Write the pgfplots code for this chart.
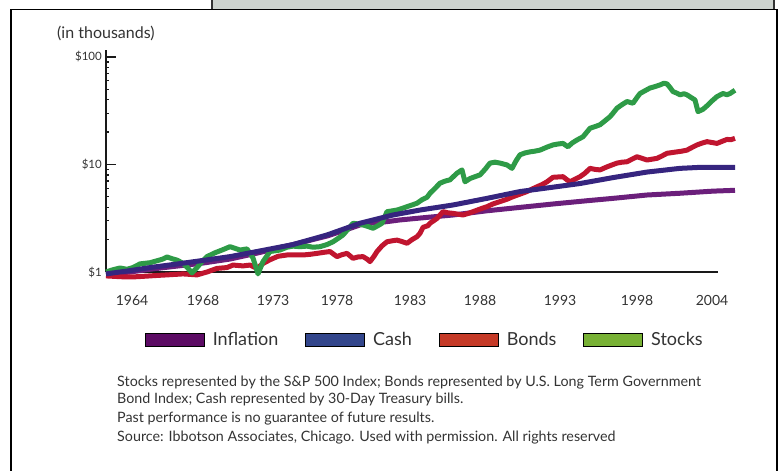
\documentclass[border=0pt]{standalone}
\usepackage{fontspec}
\setmainfont{Lato}
\usepackage{pgfplots}
\pgfplotsset{compat=1.18}
\definecolor{textgray}{HTML}{333333}
\definecolor{boxgray}{HTML}{CDD3CE}
\definecolor{stockline}{HTML}{2E9B47}
\definecolor{bondline}{HTML}{C0152F}
\definecolor{cashline}{HTML}{36257F}
\definecolor{inflline}{HTML}{6B1F7B}
\definecolor{legInfl}{HTML}{5C0B64}
\definecolor{legCash}{HTML}{33468C}
\definecolor{legBond}{HTML}{C53A27}
\definecolor{legStock}{HTML}{78B135}
\begin{document}
\begin{tikzpicture}
\path[use as bounding box] (0,0) rectangle (781bp,-471bp);
% frame and grey tab
\fill[boxgray] (212bp,0) rectangle (774bp,-9bp);
\draw[line width=1.2bp, black!80] (212bp,0) -- (212bp,-9bp);
\draw[line width=1.2bp, black!80] (774bp,0) -- (774bp,-9bp);
\draw[line width=1.3bp, black] (11bp,-480bp) -- (11bp,-9.5bp) -- (777bp,-9.5bp) -- (777bp,-480bp);
\begin{axis}[
  at={(106bp,-272bp)}, anchor=south west,
  scale only axis, width=612bp, height=222bp,
  xmin=106, xmax=718, ymode=log, ymin=1, ymax=116,
  axis x line=bottom, axis y line=left,
  axis line style={-, line width=1.5bp, black!90},
  clip=false,
  xtick={132,203,273,337,410,480,560,637,712},
  xticklabels={1964,1968,1973,1978,1983,1988,1993,1998,2004},
  ytick={1,10,100}, yticklabels={\$1,\$10,\$100},
  minor ytick={}, 
  x tick style={draw=none},
  y tick style={line width=1.3bp, black!90},
  tick align=inside, major tick length=10bp,
  /pgf/number format/assume math mode=true,
  xticklabel style={font=\fontsize{14bp}{16bp}\selectfont, text=textgray, anchor=north, inner sep=0pt, yshift=-23bp},
  yticklabel style={font=\fontsize{11.5bp}{14bp}\selectfont, text=textgray, anchor=east, inner sep=0pt, xshift=-4bp},
  legend columns=4,
  legend style={at={(axis description cs:0.521,-0.306)}, anchor=center, draw=none, fill=none,
    font=\fontsize{18bp}{20bp}\selectfont, text=textgray,
    /tikz/every odd column/.append style={column sep=6bp},
    /tikz/every even column/.append style={column sep=25bp}},
  legend image code/.code={\draw[#1] (0bp,-6.5bp) rectangle (59bp,6.5bp);},
]
\addplot[inflline, line width=5bp, line join=round, forget plot] coordinates {
(106,0.95)(130,1.00)(150,1.06)(175,1.13)(200,1.20)(230,1.32)(260,1.52)(293,1.80)
(327,2.16)(345,2.45)(360,2.74)(375,2.88)(387,2.94)(400,3.05)(427,3.22)(453,3.39)
(487,3.71)(520,3.99)(553,4.29)(588,4.61)(613,4.84)(647,5.2)(680,5.4)(713,5.65)(735,5.75)};
\addplot[bondline, line width=5bp, line join=round, forget plot] coordinates {
(106,0.92)(115,0.91)(125,0.90)(133,0.90)(142,0.91)(150,0.92)(158,0.93)(167,0.94)
(175,0.95)(183,0.96)(190,0.95)(197,0.94)(202,0.97)(207,1.00)(212,1.04)(217,1.08)
(222,1.09)(227,1.10)(233,1.16)(238,1.15)(243,1.14)(250,1.16)(257,1.08)(263,1.20)
(270,1.30)(278,1.40)(287,1.44)(295,1.44)(303,1.44)(310,1.46)(317,1.49)(323,1.52)
(330,1.55)(337,1.39)(342,1.45)(347,1.49)(353,1.34)(358,1.38)(363,1.39)(367,1.32)
(370,1.25)(374,1.40)(377,1.55)(382,1.75)(387,1.91)(392,1.95)(397,1.98)(402,1.92)
(407,1.85)(412,2.00)(417,2.13)(420,2.29)(423,2.6)(428,2.7)(430,2.84)(437,3.15)
(443,3.64)(448,3.55)(453,3.51)(458,3.45)(463,3.39)(468,3.50)(473,3.64)(480,3.85)
(487,4.05)(493,4.30)(500,4.52)(507,4.75)(513,5.02)(520,5.30)(527,5.60)(532,5.90)
(537,6.2)(542,6.5)(547,6.9)(553,7.6)(558,7.65)(563,7.7)(567,7.2)(570,6.9)(575,7.3)
(580,7.7)(585,8.3)(590,9.2)(595,9.0)(600,8.9)(607,9.5)(612,9.9)(617,10.3)(622,10.5)
(627,10.6)(632,11.2)(637,11.8)(642,11.4)(647,11.0)(652,11.2)(657,11.4)(662,12.0)
(667,12.7)(672,12.9)(677,13.1)(682,13.3)(687,13.6)(692,14.4)(697,15.2)(702,15.8)
(707,16.3)(712,16.0)(717,15.7)(722,16.4)(727,17.1)(731,17.0)(735,17.5)};
\addplot[stockline, line width=5bp, line join=round, forget plot] coordinates {
(106,1.00)(113,1.05)(120,1.09)(127,1.06)(133,1.10)(140,1.19)(150,1.22)(158,1.28)
(163,1.32)(167,1.38)(172,1.33)(177,1.29)(182,1.22)(187,1.11)(192,0.98)(197,1.10)
(202,1.25)(207,1.39)(215,1.51)(222,1.60)(230,1.72)(235,1.66)(240,1.60)(247,1.64)
(253,1.35)(258,0.96)(263,1.25)(270,1.55)(280,1.60)(287,1.70)(293,1.74)(300,1.72)
(307,1.74)(313,1.70)(320,1.72)(327,1.80)(333,1.91)(338,2.05)(343,2.21)(348,2.50)
(353,2.84)(358,2.80)(363,2.74)(368,2.65)(373,2.55)(378,2.70)(382,2.84)(387,3.64)
(392,3.70)(397,3.77)(402,3.90)(407,4.05)(412,4.20)(417,4.36)(422,4.70)(427,4.95)
(430,5.4)(435,6.0)(440,6.7)(445,7.0)(450,7.2)(457,8.3)(462,8.9)(465,6.9)(470,7.4)
(475,7.7)(480,8.0)(485,9.0)(490,10.3)(495,10.5)(500,10.3)(507,9.9)(512,9.2)(516,10.8)
(520,12.3)(525,12.8)(530,13.1)(535,13.3)(540,13.6)(547,14.5)(553,15.2)(558,15.5)
(563,15.7)(568,14.6)(572,15.8)(577,16.9)(583,18.1)(590,21.7)(595,22.5)(600,23.4)
(605,25.5)(610,27.8)(613,30)(617,33.4)(622,36)(627,38.5)(633,37.1)(637,42)(640,45.7)
(645,48.5)(650,51.4)(655,53)(660,54.9)(664,57)(667,56.1)(670,52)(673,47.6)(677,46)
(680,44.4)(684,45.5)(687,44.4)(691,42)(695,39.8)(698,31.0)(703,32.6)(708,35.8)
(712,39)(717,42.8)(723,45.7)(727,44.5)(730,45.7)(735,49)};
\addplot[cashline, line width=5bp, line join=round, forget plot] coordinates {
(106,0.96)(130,1.03)(150,1.10)(175,1.18)(200,1.27)(230,1.39)(260,1.57)(293,1.80)
(327,2.21)(360,2.84)(393,3.39)(420,3.77)(453,4.20)(487,4.84)(520,5.60)(553,6.15)
(580,6.65)(613,7.55)(647,8.5)(680,9.2)(700,9.4)(735,9.4)};
\addlegendimage{draw=black, line width=0.8bp, fill=legInfl}
\addlegendentry{Inflation}
\addlegendimage{draw=black, line width=0.8bp, fill=legCash}
\addlegendentry{Cash}
\addlegendimage{draw=black, line width=0.8bp, fill=legBond}
\addlegendentry{Bonds}
\addlegendimage{draw=black, line width=0.8bp, fill=legStock}
\addlegendentry{Stocks}
\end{axis}
\node[anchor=base west, inner sep=0pt, text=textgray, font=\fontsize{16bp}{18bp}\selectfont] at (57bp,-38bp) {(in thousands)};
\begin{scope}[every node/.style={anchor=base west, inner sep=0pt, text=textgray, font=\fontsize{14.3bp}{17bp}\selectfont}]
\node at (117bp,-386bp) {Stocks represented by the S\&P 500 Index; Bonds represented by U.S. Long Term Government};
\node at (117bp,-403bp) {Bond Index; Cash represented by 30-Day Treasury bills.};
\node at (117bp,-422bp) {Past performance is no guarantee of future results.};
\node at (117bp,-441bp) {Source: Ibbotson Associates, Chicago. Used with permission. All rights reserved};
\end{scope}
\end{tikzpicture}
\end{document}
